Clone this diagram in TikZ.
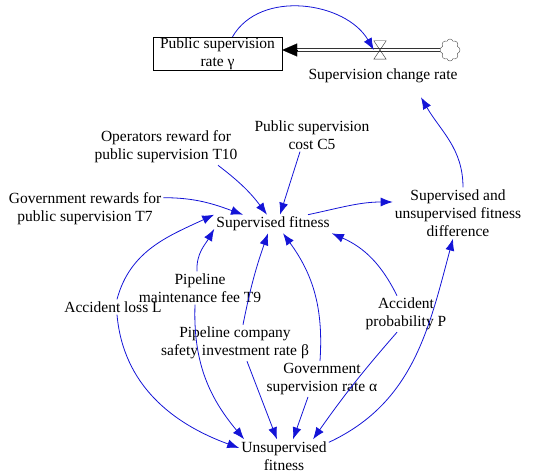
\documentclass[tikz,border=0pt]{standalone}
\usepackage{fontspec}
\setmainfont{Liberation Serif}
\usetikzlibrary{arrows.meta}
\usetikzlibrary{shapes.symbols}
\definecolor{linkblue}{RGB}{20,20,215}
\tikzset{
  var/.style={align=center, inner sep=2pt, font=\fontsize{15.5}{18}\selectfont},
  link/.style={draw=linkblue, line width=0.8pt, -{Latex[length=12pt,width=9pt]}},
  pipe/.style={draw=black!80, double, double distance=2.5pt, line width=0.7pt},
}
\newcommand{\varnode}[4]{\node[var] (#1) at ( #2 , #3 ) {#4};}

\begin{document}
\begin{tikzpicture}[x=1pt,y=1pt]
        \useasboundingbox (0,0) rectangle (542,473);
        % stock and flow
        \node[var, draw, minimum width=129pt, minimum height=33pt, inner sep=0pt] (stock) at (217.5,419.5) {Public supervision\\rate γ};
        \node[cloud, draw=black!70, cloud puffs=8, aspect=1, minimum width=20pt, minimum height=22pt, inner sep=0pt] (cloud) at (450,423) {};
        \node[minimum width=12pt, minimum height=18pt, inner sep=0pt] (valve) at (380,423) {};
        \draw[pipe] (cloud.west) -- ([xshift=14pt]stock.east |- valve);
        \draw[-{Triangle[length=15pt,width=13pt]}, line width=0.1pt] ([xshift=15pt]stock.east |- valve) -- (stock.east |- valve);
        \draw[black!80] (valve.north west) -- (valve.north east) -- (valve.south west) -- (valve.south east) -- cycle;
        \varnode{rate}{383}{397}{Supervision change rate}

        % variables
        \varnode{diff}{458}{260}{Supervised and\\unsupervised fitness\\difference}
        \varnode{c5}{312}{338}{Public supervision\\cost C5}
        \varnode{t10}{166}{326}{Operators reward for\\public supervision T10}
        \varnode{t7}{85}{264}{Government rewards for\\public supervision T7}
        \varnode{sup}{273}{249}{Supervised fitness}
        \varnode{loss}{113}{166}{Accident loss L}
        \varnode{t9}{200}{185}{Pipeline\\maintenance fee T9}
        \varnode{beta}{235}{130}{Pipeline company\\safety investment rate β}
        \varnode{alpha}{322}{94}{Government\\supervision rate α}
        \varnode{prob}{406}{159}{Accident\\probability P}
        \varnode{unsup}{284}{17}{Unsupervised\\fitness}

        % links into supervised fitness
        \draw[link] ([xshift=52pt]t10.south) to[bend left=8] ([xshift=-6pt]sup.north);
        \draw[link] ([xshift=-12pt]c5.south) -- ([xshift=7pt]sup.north);
        \draw[link] ([yshift=-7pt]t7.north east) to[out=0,in=160] ([xshift=-30pt]sup.north);
        \draw[link] ([xshift=4pt]loss.north) to[out=75,in=205] (sup.north west);
        \draw[link] ([xshift=-3pt]t9.north) to[out=93,in=240] ([yshift=-5pt]sup.west);
        \draw[link] ([xshift=8pt]beta.north) to[bend left=4] ([xshift=-5pt]sup.south);
        \draw[link] ([xshift=-2pt]alpha.north) to[bend right=20] ([xshift=10pt]sup.south);
        \draw[link] ([xshift=-9pt]prob.north) to[bend right=20] (sup.south east);

        % links into unsupervised fitness
        \draw[link] ([xshift=4pt]loss.south) to[out=-85,in=160] ([yshift=8pt]unsup.west);
        \draw[link] ([xshift=-5pt]t9.south) to[out=-92,in=130] ([xshift=5pt]unsup.north west);
        \draw[link] ([xshift=12pt]beta.south) -- ([xshift=-7pt]unsup.north);
        \draw[link] ([xshift=-14pt]alpha.south) -- ([xshift=9pt]unsup.north);
        \draw[link] ([xshift=-9pt]prob.south) to[bend right=3] ([xshift=29pt]unsup.north);

        % difference and rate
        \draw[link] ([yshift=-3pt]unsup.north east) to[out=25,in=-105] ([xshift=-5pt]diff.south);
        \draw[link] ([xshift=35pt]sup.north) to[out=12,in=180] ([yshift=11pt]diff.west);
        \draw[link] ([xshift=5pt]diff.north) to[out=90,in=-60] ([xshift=38pt,yshift=-12pt]rate.south);
        \draw[link] ([xshift=15pt]stock.north) to[out=60,in=120] (valve.west);
\end{tikzpicture}
\end{document}
